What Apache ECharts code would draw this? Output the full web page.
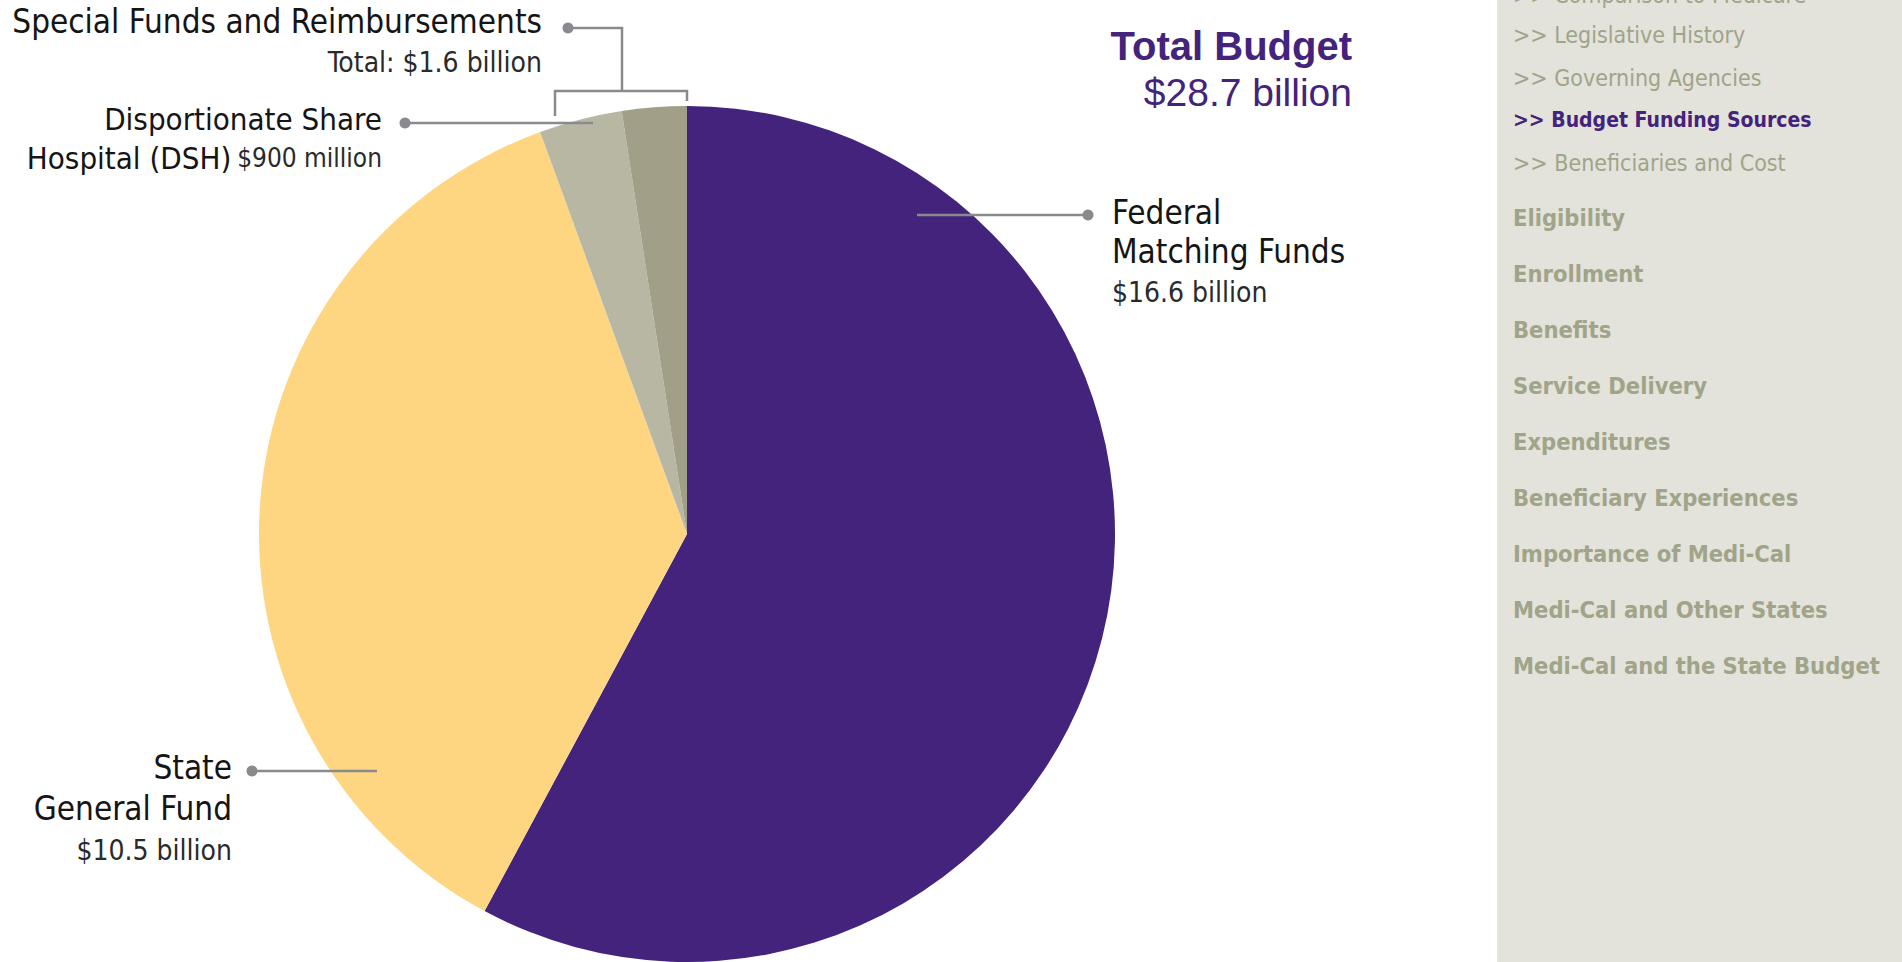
<!DOCTYPE html>
<html>
<head>
<meta charset="utf-8">
<title>Medi-Cal Budget Funding Sources</title>
<script src="https://cdn.jsdelivr.net/npm/echarts@6/dist/echarts.min.js"></script>
<style>
  html, body { margin: 0; padding: 0; background: #ffffff; }
  #chart { width: 1902px; height: 962px; }
</style>
</head>
<body>
<div id="chart"></div>
<script>
// Funding sources, in billions of dollars, clockwise from 12 o'clock
const categories = [
  'Federal Matching Funds',
  'State General Fund',
  'Disportionate Share Hospital (DSH)',
  'Other Special Funds and Reimbursements'
];
const valuesBillions = [16.6, 10.5, 0.9, 0.7];

// Side navigation entries
const navSubItems = [
  'Comparison to Medicare',
  'Legislative History',
  'Governing Agencies',
  'Budget Funding Sources',
  'Beneficiaries and Cost'
];
const navActiveItem = 'Budget Funding Sources';
const navMainItems = [
  'Eligibility',
  'Enrollment',
  'Benefits',
  'Service Delivery',
  'Expenditures',
  'Beneficiary Experiences',
  'Importance of Medi-Cal',
  'Medi-Cal and Other States',
  'Medi-Cal and the State Budget'
];

const palette = ['#43237b', '#fed682', '#b8b7a4', '#a19f88'];
const PURPLE = '#43237b';
const LINE = '#8a8a8e';
const NAV_TEXT = '#a0a489';
const NARROW = '"DejaVu Sans Condensed", "Liberation Sans Narrow", sans-serif';
const WIDE = '"Liberation Sans", Arial, sans-serif';

function money(v) {
  return v >= 1 ? '$' + v.toFixed(1) + ' billion' : '$' + Math.round(v * 1000) + ' million';
}
const total = valuesBillions.reduce((a, b) => a + b, 0);
const specialTotal = valuesBillions[2] + valuesBillions[3];

function txt(text, x, y, opts) {
  return {
    type: 'text',
    silent: true,
    z: 10,
    style: Object.assign({
      text: text, x: x, y: y,
      fill: '#151515',
      fontFamily: NARROW,
      fontSize: 33,
      fontWeight: 'normal',
      align: 'left',
      verticalAlign: 'middle'
    }, opts || {})
  };
}
function line(points) {
  return {
    type: 'polyline', silent: true, z: 10,
    shape: { points: points },
    style: { stroke: LINE, lineWidth: 2.5, fill: null }
  };
}
function dot(x, y) {
  return { type: 'circle', silent: true, z: 10, shape: { cx: x, cy: y, r: 5.5 }, style: { fill: LINE } };
}

const graphics = [];

// Side navigation panel (the list is scrolled, so its first entry is clipped at the top)
graphics.push({ type: 'rect', silent: true, z: 1, shape: { x: 1497, y: 0, width: 405, height: 962 }, style: { fill: '#e3e2db' } });
navSubItems.forEach((name, i) => {
  const active = name === navActiveItem;
  graphics.push(txt('>> ' + name, 1513, i === 0 ? -5 : -8 + i * 42.75, {
    fontSize: active ? 21 : 23,
    fontWeight: active ? 'bold' : 'normal',
    fill: active ? PURPLE : NAV_TEXT
  }));
});
navMainItems.forEach((name, i) => {
  graphics.push(txt(name, 1513, 218 + i * 56, { fontSize: 23.5, fontWeight: 'bold', fill: NAV_TEXT }));
});

// Total budget heading
graphics.push(txt('Total Budget', 1352, 46, { fontFamily: WIDE, fontSize: 40, fontWeight: 'bold', fill: PURPLE, align: 'right' }));
graphics.push(txt(money(total), 1352, 92, { fontFamily: WIDE, fontSize: 39, fill: PURPLE, align: 'right' }));

// Federal label
graphics.push(line([[917, 215], [1088, 215]]), dot(1088, 215));
graphics.push(txt('Federal', 1112, 212));
graphics.push(txt('Matching Funds', 1112, 251));
graphics.push(txt(money(valuesBillions[0]), 1112, 292, { fontSize: 28, fill: '#2a2a2a' }));

// State label
graphics.push(line([[252, 771], [377, 771]]), dot(252, 771));
graphics.push(txt('State', 232, 767, { align: 'right' }));
graphics.push(txt('General Fund', 232, 808, { align: 'right' }));
graphics.push(txt(money(valuesBillions[1]), 232, 850, { align: 'right', fontSize: 28, fill: '#2a2a2a' }));

// DSH label
graphics.push(line([[405, 123], [593, 123]]), dot(405, 123));
graphics.push(txt('Disportionate Share', 382, 119, { align: 'right', fontSize: 31 }));
graphics.push({
  type: 'text', silent: true, z: 10,
  style: {
    text: '{a|Hospital (DSH)}{g| }{b|' + money(valuesBillions[2]) + '}',
    x: 382, y: 158, align: 'right', verticalAlign: 'middle',
    rich: {
      a: { fontFamily: NARROW, fontSize: 31, fill: '#151515' },
      g: { fontFamily: NARROW, fontSize: 20 },
      b: { fontFamily: NARROW, fontSize: 26, fill: '#2a2a2a' }
    }
  }
});

// Special funds bracket and label
graphics.push(dot(568, 28));
graphics.push(line([[568, 28], [622, 28], [622, 91]]));
graphics.push(line([[555, 116], [555, 91], [687, 91], [687, 101]]));
graphics.push(txt('Special Funds and Reimbursements', 542, 21, { align: 'right' }));
graphics.push(txt('Total: ' + money(specialTotal), 542, 62, { align: 'right', fontSize: 28, fill: '#2a2a2a' }));

const chart = echarts.init(document.getElementById('chart'), null, { renderer: 'svg' });
chart.setOption({
  backgroundColor: '#ffffff',
  animation: false,
  color: palette,
  series: [{
    type: 'pie',
    z: 2,
    center: [687, 534],
    radius: 428,
    startAngle: 90,
    clockwise: true,
    avoidLabelOverlap: false,
    label: { show: false },
    labelLine: { show: false },
    emphasis: { disabled: true },
    itemStyle: { borderWidth: 0 },
    data: categories.map((name, i) => ({ name: name, value: valuesBillions[i] }))
  }],
  graphic: { elements: graphics }
});
</script>
</body>
</html>
